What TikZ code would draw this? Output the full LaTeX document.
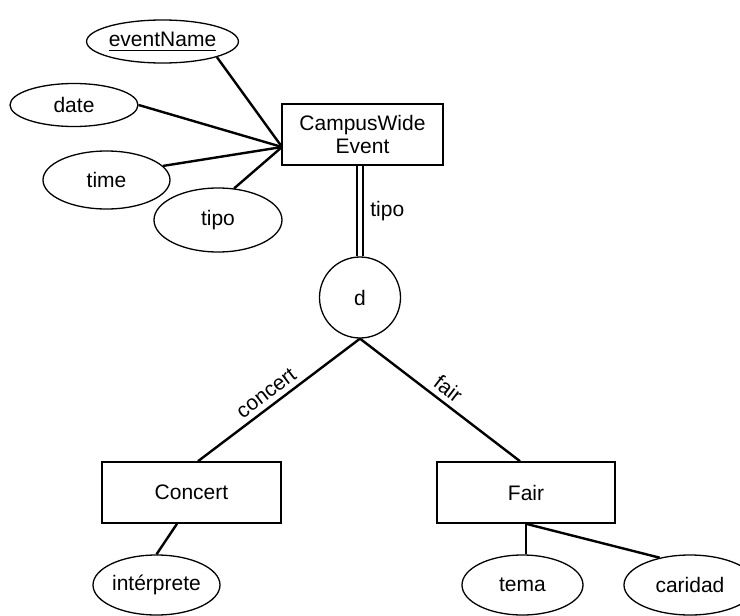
\documentclass[tikz,border=0pt]{standalone}
\usepackage{fontspec}
\setmainfont{Liberation Sans}
\usetikzlibrary{shapes.geometric}
\begin{document}
\begin{tikzpicture}[x=1pt,y=-1pt,
  txt/.style={font=\fontsize{21}{23}\selectfont},
  attr/.style={draw, ellipse, line width=1.3pt, inner sep=0pt, txt},
  ent/.style={draw, rectangle, line width=1.6pt, inner sep=0pt, align=center, txt},
  spec/.style={draw, circle, line width=1.3pt, inner sep=0pt, minimum size=81pt, txt},
  conn/.style={line width=2.4pt},
  dbl/.style={line width=2.1pt, double, double distance=4.6pt}]
\useasboundingbox (0,0) rectangle (740,616);

% attributes of CampusWideEvent
\node[attr, minimum width=128pt, minimum height=43pt] (en) at (162.5,41.5) {\underline{\raisebox{0pt}[\height][2pt]{eventName}}};
\node[attr, minimum width=128pt, minimum height=43pt] (da) at (74,105) {date};
\node[attr, minimum width=127pt, minimum height=58pt] (ti) at (106.5,180) {time};
\node[attr, minimum width=128pt, minimum height=64pt] (tp) at (218,220) {tipo};

% entities
\node[ent, minimum width=161pt, minimum height=61pt] (cw) at (362.5,134.5) {CampusWide\\Event};
\node[spec] (d) at (360,297.5) {d};
\node[ent, minimum width=179pt, minimum height=61pt] (co) at (191.5,492.5) {Concert};
\node[ent, minimum width=178pt, minimum height=61pt] (fa) at (526,492.5) {Fair};

% attributes of subclasses
\node[attr, minimum width=127pt, minimum height=60pt] (in) at (156.5,585) {intérprete};
\node[attr, minimum width=121pt, minimum height=60pt] (te) at (522.5,585) {tema};
\node[attr, minimum width=132pt, minimum height=60pt] (ca) at (690,585) {caridad};

\coordinate (cwL) at (282,147);
\draw[conn] (en.-16) -- (cwL);
\draw[conn] (da.east) -- (cwL);
\draw[conn] (ti.14) -- (cwL);
\draw[conn] (tp.63) -- (cwL);

\draw[dbl] (d.north |- cw.south) -- node[midway, right=6pt, txt] {tipo} (d.north);

\draw[conn] (d.south) -- node[pos=0.53, sloped, above, inner sep=5pt, txt] {concert} ([xshift=6.5pt]co.north);
\draw[conn] (d.south) -- node[pos=0.5, sloped, above, inner sep=5pt, txt] {fair} ([xshift=-6pt]fa.north);

\draw[conn] ([xshift=-14.5pt]co.south) -- (in.north);
\draw[conn] (fa.south) -- (fa.south |- te.north);
\draw[conn] (fa.south) -- (ca.138);
\end{tikzpicture}
\end{document}
